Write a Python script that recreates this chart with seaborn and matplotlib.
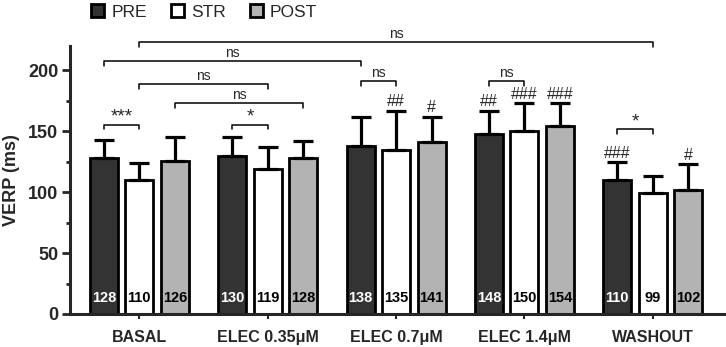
# VERP bar chart: PRE / STR / POST per condition
import numpy as np
import pandas as pd
import matplotlib
matplotlib.use("Agg")
import matplotlib.pyplot as plt
import seaborn as sns
from matplotlib.ticker import MultipleLocator

# data
kondisi = ["BASAL", "ELEC 0.35μM", "ELEC 0.7μM", "ELEC 1.4μM", "WASHOUT"]
grup = ["PRE", "STR", "POST"]
mean_pre = [128, 130, 138, 148, 110]
mean_str = [110, 119, 135, 150, 99]
mean_post = [126, 128, 141, 154, 102]
sd_pre = [15, 15, 24, 19, 15]
sd_str = [14, 18, 32, 23, 14]
sd_post = [19, 14, 21, 19, 21]

# significance: (kondisi, grup, label) above error bar
tanda_pagar = [(2, 1, "##"), (2, 2, "#"), (3, 0, "##"), (3, 1, "###"),
               (3, 2, "###"), (4, 0, "###"), (4, 2, "#")]
# brackets: (kondisi a, grup a, kondisi b, grup b, tinggi, label)
kurung = [(0, 0, 0, 1, 155.5, "***"), (1, 0, 1, 1, 155.5, "*"),
          (0, 2, 1, 2, 173, "ns"), (0, 1, 1, 1, 188.5, "ns"),
          (0, 0, 2, 0, 207.5, "ns"), (2, 0, 2, 1, 191, "ns"),
          (3, 0, 3, 1, 191, "ns"), (4, 0, 4, 1, 152, "*"),
          (0, 1, 4, 1, 223.5, "ns")]

df = pd.DataFrame({
    "kondisi": kondisi * 3,
    "grup": np.repeat(grup, len(kondisi)),
    "verp": mean_pre + mean_str + mean_post,
})
sd_all = [sd_pre, sd_str, sd_post]
mean_all = [mean_pre, mean_str, mean_post]

sns.set_style("ticks")
plt.rcParams["font.family"] = ["Liberation Sans", "DejaVu Sans"]

fig, ax = plt.subplots(figsize=(7.26, 3.47), dpi=100)
fig.subplots_adjust(left=70 / 726, right=1.0, bottom=33 / 347, top=301 / 347)

sns.barplot(data=df, x="kondisi", y="verp", hue="grup",
            order=kondisi, hue_order=grup,
            palette=["#333333", "#ffffff", "#b3b3b3"],
            edgecolor="black", linewidth=2, width=0.83, gap=0.21,
            errorbar=None, ax=ax)

# bar centres from the containers
pusat = [[p.get_x() + p.get_width() / 2 for p in c] for c in ax.containers]

# error bars (upper only) and value labels
warna_teks = ["white", "black", "black"]
for g in range(3):
    ax.errorbar(pusat[g], mean_all[g], yerr=[np.zeros(5), sd_all[g]],
                fmt="none", ecolor="black", elinewidth=2.3, capsize=7.5,
                capthick=2.3, zorder=1)
    for k in range(5):
        ax.text(pusat[g][k], 13, str(mean_all[g][k]), ha="center", va="center",
                fontsize=10.5, fontweight="bold", color=warna_teks[g], zorder=5)

for k, g, lab in tanda_pagar:
    ax.text(pusat[g][k], mean_all[g][k] + sd_all[g][k] + 1, lab,
            ha="center", va="bottom", fontsize=11.5)

for ka, ga, kb, gb, h, lab in kurung:
    x1, x2 = pusat[ga][ka], pusat[gb][kb]
    ax.plot([x1, x1, x2, x2], [h - 4, h, h, h - 4], color="black", lw=1.1,
            clip_on=False)
    if lab == "ns":
        ax.text((x1 + x2) / 2, h + 0.8, lab, ha="center", va="bottom",
                fontsize=10, clip_on=False)
    else:
        ax.text((x1 + x2) / 2, h - 1, lab, ha="center", va="bottom",
                fontsize=13.5, clip_on=False)

ax.set_xlim(-0.54, 4.57)
ax.set_ylim(0, 220)
ax.yaxis.set_major_locator(MultipleLocator(50))
ax.yaxis.set_minor_locator(MultipleLocator(25))
ax.set_ylabel("VERP (ms)", fontsize=13, fontweight="bold", labelpad=6)
ax.set_xlabel("")
sns.despine(ax=ax)
for s in ["left", "bottom"]:
    ax.spines[s].set_linewidth(2.2)
ax.tick_params(axis="y", which="major", length=5.5, width=2, pad=3, labelsize=13)
ax.tick_params(axis="y", which="minor", length=3, width=2)
ax.tick_params(axis="x", length=3.5, width=1.5, pad=8, labelsize=11.5)
for t in ax.get_xticklabels() + ax.get_yticklabels():
    t.set_fontweight("bold")

h, l = ax.get_legend_handles_labels()
ax.get_legend().remove()
fig.legend(h, l, loc="center left", bbox_to_anchor=(0.116, 0.965), ncol=3,
           frameon=False, fontsize=12.5, handlelength=0.75, handleheight=0.75,
           handletextpad=0.4, columnspacing=1.4, borderaxespad=0)

plt.savefig("out.png", dpi=100)
